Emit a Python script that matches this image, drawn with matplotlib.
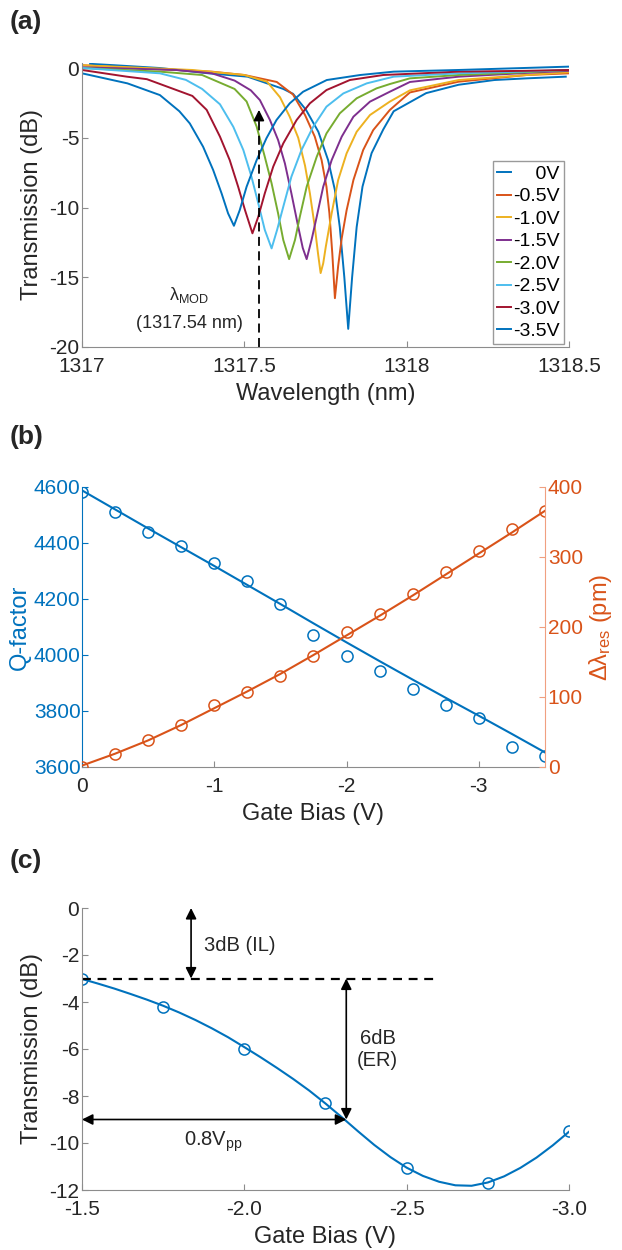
import matplotlib
matplotlib.use('Agg')
import matplotlib.pyplot as plt

plt.rcParams['font.family'] = ['Liberation Sans', 'DejaVu Sans']
plt.rcParams['mathtext.fontset'] = 'custom'
plt.rcParams['mathtext.rm'] = 'Liberation Sans'
plt.rcParams['mathtext.it'] = 'Liberation Sans:italic'
plt.rcParams['axes.unicode_minus'] = False

# ---- (a) transmission spectra ----
wl_0V = [1317.025, 1317.10, 1317.24, 1317.39, 1317.51, 1317.57, 1317.62, 1317.65, 1317.69, 1317.728,
         1317.758, 1317.779, 1317.794, 1317.808, 1317.82, 1317.832, 1317.846, 1317.864, 1317.892,
         1317.928, 1317.96, 1318.06, 1318.16, 1318.27, 1318.37, 1318.49]
tr_0V = [0.3, 0.2, 0.0, -0.38, -0.62, -1.1, -1.5, -1.85, -3.0, -4.57,
         -6.6, -8.75, -11.4, -15.0, -18.7, -15.0, -11.4, -8.5, -6.1,
         -4.4, -3.1, -1.8, -1.2, -0.86, -0.74, -0.62]

wl_05V = [1317.0, 1317.2, 1317.4, 1317.5, 1317.6, 1317.65, 1317.687, 1317.717, 1317.738, 1317.753,
          1317.762, 1317.771, 1317.779, 1317.789, 1317.80, 1317.815, 1317.836, 1317.866, 1317.897,
          1317.948, 1318.01, 1318.16, 1318.37, 1318.5]
tr_05V = [0.2, -0.05, -0.26, -0.5, -1.0, -1.9, -3.37, -4.92, -6.6, -8.51,
          -10.4, -13.3, -16.5, -14.2, -12.2, -10.2, -8.03, -5.88, -4.45,
          -3.01, -1.75, -0.98, -0.5, -0.38]

wl_10V = [1317.0, 1317.2, 1317.34, 1317.5, 1317.57, 1317.61, 1317.64, 1317.666, 1317.687, 1317.702,
          1317.717, 1317.727, 1317.735, 1317.743, 1317.751, 1317.769, 1317.789, 1317.815, 1317.846,
          1317.887, 1317.948, 1318.01, 1318.16, 1318.37, 1318.5]
tr_10V = [0.2, 0.0, -0.14, -0.5, -0.98, -2.1, -3.5, -5.0, -7.0, -8.99,
          -11.38, -13.3, -14.7, -14.0, -12.8, -10.42, -8.03, -6.12, -4.57,
          -3.37, -2.41, -1.6, -0.86, -0.5, -0.3]

wl_15V = [1317.0, 1317.29, 1317.40, 1317.47, 1317.52, 1317.548, 1317.579, 1317.604, 1317.625, 1317.645,
          1317.666, 1317.68, 1317.692, 1317.707, 1317.723, 1317.743, 1317.769, 1317.80, 1317.836,
          1317.887, 1317.948, 1318.01, 1318.16, 1318.37, 1318.5]
tr_15V = [0.05, -0.14, -0.38, -0.9, -1.6, -2.3, -3.73, -5.16, -6.84, -8.99,
          -11.38, -12.9, -13.7, -12.33, -10.66, -8.51, -6.6, -4.92, -3.49,
          -2.41, -1.7, -1.0, -0.62, -0.35, -0.2]

wl_20V = [1317.0, 1317.24, 1317.37, 1317.41, 1317.47, 1317.507, 1317.538, 1317.563, 1317.584, 1317.604,
          1317.62, 1317.638, 1317.656, 1317.671, 1317.692, 1317.723, 1317.753, 1317.794, 1317.846,
          1317.907, 1317.948, 1318.01, 1318.16, 1318.37, 1318.5]
tr_20V = [0.0, -0.26, -0.5, -0.9, -1.5, -2.4, -4.2, -6.36, -8.27, -10.42,
          -12.33, -13.7, -12.33, -10.66, -8.51, -6.36, -4.69, -3.25, -2.17,
          -1.46, -1.15, -0.74, -0.5, -0.3, -0.14]

wl_25V = [1317.0, 1317.24, 1317.32, 1317.37, 1317.425, 1317.466, 1317.497, 1317.522, 1317.543, 1317.563,
          1317.584, 1317.601, 1317.62, 1317.645, 1317.676, 1317.712, 1317.753, 1317.805, 1317.877,
          1317.96, 1318.16, 1318.37, 1318.5]
tr_25V = [0.0, -0.38, -0.85, -1.5, -2.6, -4.21, -5.88, -7.79, -9.7, -11.6,
          -12.93, -11.6, -9.94, -7.79, -5.88, -4.21, -2.77, -1.82, -1.1,
          -0.62, -0.38, -0.25, -0.14]

wl_30V = [1317.0, 1317.138, 1317.2, 1317.27, 1317.34, 1317.384, 1317.425, 1317.455, 1317.481, 1317.502,
          1317.525, 1317.543, 1317.563, 1317.589, 1317.62, 1317.661, 1317.702, 1317.753, 1317.825,
          1317.928, 1318.16, 1318.37, 1318.5]
tr_30V = [-0.14, -0.62, -0.8, -1.4, -2.0, -3.0, -4.92, -6.6, -8.51, -10.18,
          -11.85, -10.66, -8.99, -7.07, -5.4, -3.73, -2.53, -1.58, -0.86,
          -0.5, -0.26, -0.2, -0.14]

wl_35V = [1317.0, 1317.14, 1317.24, 1317.30, 1317.332, 1317.373, 1317.404, 1317.43, 1317.45, 1317.468,
          1317.486, 1317.507, 1317.538, 1317.568, 1317.599, 1317.64, 1317.681, 1317.754, 1317.857,
          1317.96, 1318.16, 1318.5]
tr_35V = [-0.38, -1.1, -1.94, -3.1, -3.97, -5.64, -7.31, -8.99, -10.42, -11.31,
          -10.18, -8.51, -6.6, -5.04, -3.73, -2.53, -1.7, -0.86, -0.5,
          -0.26, -0.14, 0.1]

spectra = [(wl_0V, tr_0V), (wl_05V, tr_05V), (wl_10V, tr_10V), (wl_15V, tr_15V),
           (wl_20V, tr_20V), (wl_25V, tr_25V), (wl_30V, tr_30V), (wl_35V, tr_35V)]
labels_a = ['    0V', '-0.5V', '-1.0V', '-1.5V', '-2.0V', '-2.5V', '-3.0V', '-3.5V']
lambda_mod = 1317.545

# ---- (b) Q-factor and resonance shift ----
bias_b = [0, -0.25, -0.5, -0.75, -1.0, -1.25, -1.5, -1.75, -2.0, -2.25, -2.5, -2.75, -3.0, -3.25, -3.5]
q_meas = [4582, 4512, 4439, 4388, 4329, 4265, 4182, 4073, 3995, 3944, 3880, 3820, 3774, 3671, 3641]
q_fit = [4588, 4520, 4452, 4385, 4318, 4250, 4182, 4113, 4045, 3978, 3912, 3847, 3783, 3718, 3652]
shift_meas = [0, 19, 39, 60, 88, 107, 130, 158, 193, 218, 247, 278, 308, 340, 365]
shift_fit = [2, 19, 38, 60, 84, 108, 133, 160, 188, 216, 245, 275, 305, 335, 366]

# ---- (c) transmission at lambda_MOD vs bias ----
bias_c = [-1.5, -1.75, -2.0, -2.25, -2.5, -2.75, -3.0]
trans_c = [-3.0, -4.2, -6.0, -8.3, -11.05, -11.7, -9.5]
bias_fit_c = [-1.5, -1.55, -1.6, -1.65, -1.7, -1.75, -1.8, -1.85, -1.9, -1.95, -2.0,
              -2.05, -2.1, -2.15, -2.2, -2.25, -2.3, -2.35, -2.4, -2.45, -2.5,
              -2.55, -2.6, -2.65, -2.7, -2.75, -2.8, -2.85, -2.9, -2.95, -3.0]
trans_fit_c = [-3.02, -3.22, -3.43, -3.66, -3.90, -4.16, -4.45, -4.77, -5.12, -5.50, -5.92,
               -6.35, -6.80, -7.27, -7.77, -8.32, -8.90, -9.50, -10.08, -10.60, -11.05,
               -11.40, -11.65, -11.80, -11.82, -11.68, -11.42, -11.06, -10.62, -10.10, -9.52]

mat_colors = ['#0072BD', '#D95319', '#EDB120', '#7E2F8E', '#77AC30', '#4DBEEE', '#A2142F', '#0072BD']
axis_gray = '#8c8c8c'
text_col = '#262626'

fig = plt.figure(figsize=(6.22, 12.5), dpi=100)


def style_axes(ax):
    for s in ['top', 'right']:
        ax.spines[s].set_visible(False)
    for s in ['left', 'bottom']:
        ax.spines[s].set_color(axis_gray)
        ax.spines[s].set_linewidth(0.8)
    ax.tick_params(direction='in', length=4, width=0.8, color=axis_gray,
                   labelsize=15, labelcolor=text_col, pad=2)
    ax.tick_params(axis='x', pad=7)


# panel (a)
ax1 = fig.add_axes([0.1318, 0.7224, 0.783, 0.2272])
for (wl, tr), c, lab in zip(spectra, mat_colors, labels_a):
    ax1.plot(wl, tr, color=c, lw=1.4, label=lab)
ax1.set_xlim(1317, 1318.5)
ax1.set_ylim(-20, 0.36)
ax1.set_xticks([1317, 1317.5, 1318, 1318.5])
ax1.set_xticklabels(['1317', '1317.5', '1318', '1318.5'])
ax1.set_yticks([0, -5, -10, -15, -20])
ax1.set_yticklabels(['0', '-5', '-10', '-15', '-20'])
style_axes(ax1)
ax1.set_xlabel('Wavelength (nm)', fontsize=17, color=text_col, labelpad=5)
ax1.set_ylabel('Transmission (dB)', fontsize=17, color=text_col, labelpad=4)
ax1.plot([lambda_mod, lambda_mod], [-20, -3.8], color='k', lw=1.3, dashes=(5, 3))
ax1.annotate('', xy=(lambda_mod, -2.8), xytext=(lambda_mod, -4.0),
             arrowprops=dict(arrowstyle='-|>', color='k', lw=1.2, mutation_scale=16))
ax1.text(1317.33, -16.3, 'λ$_{\\mathrm{MOD}}$', ha='center', va='center', fontsize=13, color=text_col)
ax1.text(1317.33, -18.3, '(1317.54 nm)', ha='center', va='center', fontsize=13, color=text_col)
leg = ax1.legend(loc='lower right', bbox_to_anchor=(0.99, 0.01), fontsize=14, handlelength=0.7,
                 handletextpad=0.15, labelspacing=0.25, borderpad=0.2, borderaxespad=0.0,
                 fancybox=False, framealpha=1, edgecolor='#9a9a9a')
leg.get_frame().set_linewidth(1.0)

# panel (b)
ax2 = fig.add_axes([0.1318, 0.3864, 0.7444, 0.224])
ax2.plot(bias_b, q_fit, color=mat_colors[0], lw=1.5)
ax2.plot(bias_b, q_meas, 'o', mfc='none', mec=mat_colors[0], ms=8, mew=1.1)
ax2.set_xlim(0, -3.5)
ax2.set_ylim(3600, 4600)
ax2.set_xticks([0, -1, -2, -3])
ax2.set_xticklabels(['0', '-1', '-2', '-3'])
ax2.set_yticks([3600, 3800, 4000, 4200, 4400, 4600])
style_axes(ax2)
ax2.spines['left'].set_color(mat_colors[0])
ax2.tick_params(axis='y', colors=mat_colors[0], labelcolor=mat_colors[0], pad=1)
ax2.set_xlabel('Gate Bias (V)', fontsize=17, color=text_col, labelpad=5)
ax2.set_ylabel('Q-factor', fontsize=17, color=mat_colors[0], labelpad=2)

ax2r = ax2.twinx()
ax2r.plot(bias_b, shift_fit, color=mat_colors[1], lw=1.5)
ax2r.plot(bias_b, shift_meas, 'o', mfc='none', mec=mat_colors[1], ms=8, mew=1.1)
ax2r.set_ylim(0, 400)
ax2r.set_yticks([0, 100, 200, 300, 400])
for s in ['top', 'left', 'bottom']:
    ax2r.spines[s].set_visible(False)
ax2r.spines['right'].set_color('#f0a080')
ax2r.spines['right'].set_linewidth(0.8)
ax2r.tick_params(direction='in', length=4, width=0.8, colors='#f0a080',
                 labelcolor=mat_colors[1], labelsize=15, pad=2)
ax2r.set_ylabel('Δλ$_{\\mathrm{res}}$ (pm)', fontsize=17, color=mat_colors[1], labelpad=3)

# panel (c)
ax3 = fig.add_axes([0.1318, 0.048, 0.783, 0.2256])
ax3.plot(bias_fit_c, trans_fit_c, color=mat_colors[0], lw=1.5)
ax3.plot(bias_c, trans_c, 'o', mfc='none', mec=mat_colors[0], ms=8, mew=1.1)
ax3.set_xlim(-1.5, -3.0)
ax3.set_ylim(-12, 0)
ax3.set_xticks([-1.5, -2.0, -2.5, -3.0])
ax3.set_xticklabels(['-1.5', '-2.0', '-2.5', '-3.0'])
ax3.set_yticks([0, -2, -4, -6, -8, -10, -12])
ax3.set_yticklabels(['0', '-2', '-4', '-6', '-8', '-10', '-12'])
style_axes(ax3)
ax3.set_xlabel('Gate Bias (V)', fontsize=17, color=text_col, labelpad=5)
ax3.set_ylabel('Transmission (dB)', fontsize=17, color=text_col, labelpad=4)
ax3.plot([-1.5, -2.59], [-3, -3], color='k', lw=1.6, dashes=(4, 3))
arrow = dict(arrowstyle='<|-|>', color='k', lw=1.2, mutation_scale=16, shrinkA=0, shrinkB=0)
ax3.annotate('', xy=(-1.836, 0), xytext=(-1.836, -3), arrowprops=arrow)
ax3.annotate('', xy=(-2.314, -3), xytext=(-2.314, -9), arrowprops=arrow)
ax3.annotate('', xy=(-1.5, -9), xytext=(-2.314, -9), arrowprops=arrow)
ax3.text(-1.875, -1.6, '3dB (IL)', ha='left', va='center', fontsize=14.5, color=text_col)
ax3.text(-2.41, -6.0, '6dB\n(ER)', ha='center', va='center', fontsize=14.5, color=text_col,
         linespacing=1.2)
ax3.text(-1.904, -9.95, '0.8V$_{\\mathrm{pp}}$', ha='center', va='center', fontsize=14.5, color=text_col)

fig.text(0.016, 1 - 22 / 1250, '(a)', fontsize=19, fontweight='bold', va='center', color=text_col)
fig.text(0.016, 1 - 437 / 1250, '(b)', fontsize=19, fontweight='bold', va='center', color=text_col)
fig.text(0.016, 1 - 861 / 1250, '(c)', fontsize=19, fontweight='bold', va='center', color=text_col)

fig.savefig('out.png', dpi=100)
